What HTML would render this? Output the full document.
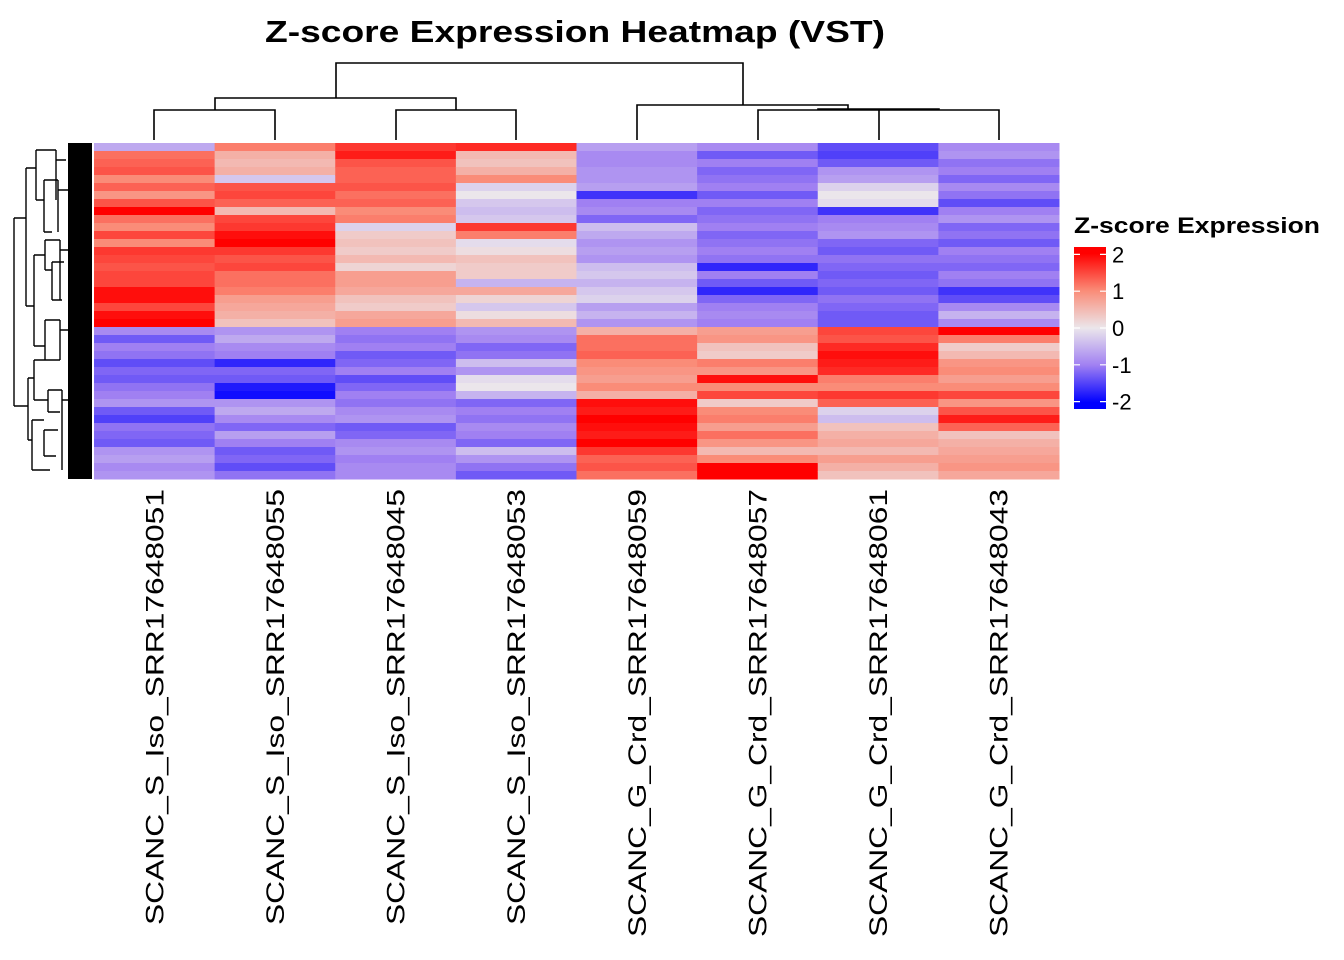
<!DOCTYPE html>
<html><head><meta charset="utf-8"><style>
body{margin:0;background:#fff;}
svg{display:block;font-family:"Liberation Sans",Arial,sans-serif;}
</style></head><body>
<svg id="chart" width="1344" height="960" viewBox="0 0 1344 960">
<text x="265" y="42" font-size="31" font-weight="bold" textLength="620" lengthAdjust="spacingAndGlyphs">Z-score Expression Heatmap (VST)</text>
<g id="cells"></g>
<g id="coldend" stroke="#000" stroke-width="1.6" fill="none">
<path d="M154 140V110H275V140 M396 140V110H516V140 M215 110V98H456V110 M336 98V63H743V105 M637 140V105H848V109 M758 140V110H879 M879 140V110H999V140 M818 110V109H939V110"/>
</g>
<g id="rowdend" stroke="#000" stroke-width="1.4" fill="none">
<path d="M14 218V406 M14 218H26 M14 406H28 M26 168V306 M26 168H36 M26 306H34 M36 150V200 M36 150H56 M36 200H44 M44 180V232 M44 180H58 M44 232H52 M34 255V346 M34 255H45 M34 346H45 M45 240V270 M45 240H60 M45 270H52 M52 262V300 M52 262H64 M52 300H62 M45 320V360 M45 320H60 M45 360H60 M28 378V440 M28 378H34 M28 440H32 M34 360V400 M34 360H50 M34 400H48 M32 420V470 M32 420H44 M32 470H50 M48 390V412 M48 390H62 M48 412H60 M44 430V456 M44 430H58 M44 456H56 M56 150V200 M56 160H66 M58 180V232 M58 190H70 M60 240V300 M60 250H72 M60 320V360 M60 330H70 M62 390V470 M62 400H72"/>
</g>
<rect x="68" y="143" width="24" height="336" fill="#000"/>
<g id="collabels"></g>
<g>
<text x="1074" y="233" font-size="22" font-weight="bold" textLength="246" lengthAdjust="spacingAndGlyphs">Z-score Expression</text>
<defs><linearGradient id="lg" x1="0" y1="1" x2="0" y2="0">
<stop offset="0.04" stop-color="rgb(0,0,255)"/><stop offset="0.27" stop-color="rgb(160,128,242)"/><stop offset="0.5" stop-color="rgb(235,230,235)"/><stop offset="0.73" stop-color="rgb(250,140,120)"/><stop offset="0.96" stop-color="rgb(255,0,0)"/></linearGradient></defs>
<rect x="1074" y="247" width="32" height="162" fill="url(#lg)"/>
<g id="legticks"></g>
</g>
</svg>
<script>
const samples=["SCANC_S_Iso_SRR17648051","SCANC_S_Iso_SRR17648055","SCANC_S_Iso_SRR17648045","SCANC_S_Iso_SRR17648053","SCANC_G_Crd_SRR17648059","SCANC_G_Crd_SRR17648057","SCANC_G_Crd_SRR17648061","SCANC_G_Crd_SRR17648043"];
const col1=[-0.6,1.2,1.3,1.4,1.0,1.3,0.9,1.4,2.0,1.2,1.0,1.5,1.0,1.6,1.5,1.4,1.5,1.5,1.9,1.9,1.5,1.9,2.1,-0.9,-1.3,-1.0,-1.1,-1.4,-1.2,-1.3,-1.1,-1.0,-0.8,-1.3,-1.5,-1.1,-1.2,-1.3,-0.8,-0.7,-0.9,-0.8];
const col2=[1.1,0.6,0.5,0.6,-0.3,1.4,1.5,1.3,0.5,1.5,1.6,1.9,2.1,1.6,1.4,1.5,1.2,1.2,1.1,0.8,0.7,0.6,0.4,-0.8,-0.6,-0.9,-1.0,-1.7,-1.2,-1.3,-1.8,-1.9,-0.8,-0.6,-0.9,-1.2,-0.7,-1.0,-1.3,-1.2,-1.4,-1.1];
const col3=[1.6,1.8,1.4,1.3,1.3,1.4,1.2,1.3,1.0,1.1,-0.2,0.3,0.4,0.3,0.5,0.2,0.8,0.8,0.7,0.4,0.3,0.7,0.8,-1.0,-1.1,-1.0,-1.3,-1.2,-1.0,-1.4,-1.2,-1.0,-1.1,-0.9,-0.8,-1.3,-1.2,-0.9,-0.8,-1.0,-0.9,-0.9];
const col4=[1.7,0.5,0.4,0.6,1.0,-0.2,0.0,-0.3,-0.4,-0.3,1.6,1.1,-0.1,0.1,0.4,0.3,0.3,-0.5,0.7,0.2,-0.3,0.1,0.5,-0.8,-0.9,-1.2,-1.1,-0.4,-0.8,-0.1,0.0,-0.5,-1.2,-1.0,-1.1,-0.9,-1.0,-1.2,-0.4,-0.8,-1.1,-1.3];
const col5=[-0.7,-0.9,-0.9,-0.8,-0.8,-0.7,-1.6,-1.0,-0.9,-1.2,-0.4,-0.6,-0.8,-0.7,-0.8,-0.4,-0.3,-0.5,-0.3,-0.2,-0.7,-0.5,-0.8,0.6,1.2,1.2,1.3,1.0,0.9,0.8,1.0,0.6,1.9,1.8,2.0,1.9,1.8,2.0,1.6,1.3,1.4,1.2];
const col6=[-0.9,-1.3,-1.0,-1.2,-1.1,-1.0,-1.3,-1.0,-1.2,-1.1,-1.0,-1.2,-1.1,-1.0,-1.1,-1.7,-1.0,-1.3,-1.7,-1.2,-1.0,-0.9,-1.0,0.8,0.9,0.4,0.3,1.1,0.9,1.9,1.0,1.5,0.3,1.0,1.1,0.8,1.2,0.9,0.5,1.0,2.1,2.2];
const col7=[-1.4,-1.5,-1.3,-0.8,-0.7,-0.2,0.0,-0.1,-1.6,-1.0,-0.9,-0.8,-1.2,-1.3,-1.1,-1.2,-1.3,-1.2,-1.3,-1.1,-1.2,-1.3,-1.3,1.5,1.4,1.7,1.9,1.8,1.7,1.1,1.0,1.6,1.3,-0.2,-0.4,0.4,0.6,0.7,0.5,0.8,0.6,0.4];
const col8=[-0.9,-0.8,-1.1,-1.0,-1.2,-0.9,-1.1,-1.4,-1.0,-0.8,-1.2,-1.1,-1.3,-1.0,-1.1,-1.2,-1.0,-1.1,-1.6,-1.4,-0.9,-0.5,-0.9,2.0,1.1,0.3,0.5,0.9,1.0,0.8,1.0,1.5,0.9,1.4,1.8,1.3,0.4,0.6,0.7,0.8,0.9,0.7];
const legendTicks=[2,1,0,-1,-2];
const cols=[col1,col2,col3,col4,col5,col6,col7,col8];
const NS="http://www.w3.org/2000/svg";
const X0=94,X1=1059,Y0=143,Y1=479;
const nR=col1.length, cw=(X1-X0)/samples.length, rh=(Y1-Y0)/nR;
const xPos=i=>X0+i*cw, yPos=r=>Y0+r*rh;
const stops=[[-2,[0,0,255]],[-1,[160,128,242]],[0,[235,230,235]],[1,[250,140,120]],[2,[255,0,0]]];
function color(v){v=Math.max(-2,Math.min(2,v));for(let k=0;k<4;k++){const[a,ca]=stops[k],[b,cb]=stops[k+1];if(v<=b){const t=(v-a)/(b-a);return 'rgb('+ca.map((c,j)=>Math.round(c+(cb[j]-c)*t)).join(',')+')';}}return 'red';}
const g=document.getElementById('cells');
cols.forEach((vals,i)=>{vals.forEach((v,r)=>{
 const el=document.createElementNS(NS,'rect');
 el.setAttribute('x',xPos(i));el.setAttribute('y',yPos(r));
 el.setAttribute('width',cw+0.5);el.setAttribute('height',rh+0.5);
 el.setAttribute('fill',color(v));
 
 
 g.appendChild(el);});});
const lg=document.getElementById('collabels');
samples.forEach((s,i)=>{
 const t=document.createElementNS(NS,'text');
 const cx=xPos(i)+cw/2+9;
 t.setAttribute('transform','translate('+cx+',489) rotate(-90)');
 t.setAttribute('text-anchor','end');t.setAttribute('font-size','25');
 t.setAttribute('textLength',s.indexOf('Crd')>0?448:436);
 t.setAttribute('lengthAdjust','spacingAndGlyphs');
 t.textContent=s;
 
 
 lg.appendChild(t);});
const lt=document.getElementById('legticks');
const ly=v=>328-v*36.8;
legendTicks.forEach(v=>{
 const y=ly(v);
 const l1=document.createElementNS(NS,'path');
 l1.setAttribute('d','M1074 '+y+'H1080 M1100 '+y+'H1106');
 l1.setAttribute('stroke','#fff');l1.setAttribute('stroke-width','1.2');
 
 
 lt.appendChild(l1);
 const t=document.createElementNS(NS,'text');
 t.setAttribute('x',1112);t.setAttribute('y',y+8);t.setAttribute('font-size','22');
 t.textContent=v<0?'-'+Math.abs(v):String(v);
 
 
 lt.appendChild(t);});
</script>
</body></html>
